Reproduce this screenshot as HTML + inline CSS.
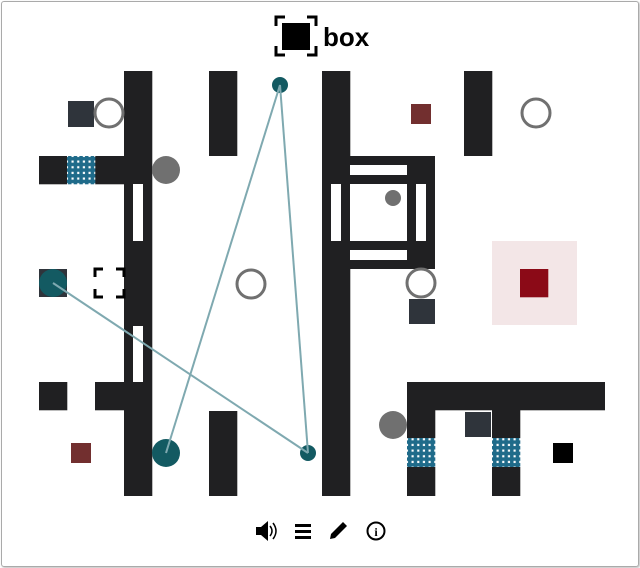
<!DOCTYPE html>
<html><head><meta charset="utf-8"><style>
html,body{margin:0;padding:0;background:#fff;}
body{width:640px;height:568px;overflow:hidden;position:relative;font-family:"Liberation Sans",sans-serif;}
.frame{position:absolute;left:1px;top:1px;width:636px;height:564px;border:1px solid #aaa;border-radius:3px;box-shadow:1px 1px 2px #bbb;}
</style></head><body>
<div class="frame"></div>
<svg width="640" height="568" style="position:absolute;left:0;top:0">
<defs>
<pattern id="gr" x="67" y="156" width="5.667" height="5.667" patternUnits="userSpaceOnUse">
<rect width="5.667" height="5.667" fill="#fff"/>
<rect x="1" y="0" width="3.5" height="5.667" fill="#1f6b8a"/>
<rect x="0" y="1" width="5.667" height="3.5" fill="#1f6b8a"/>
</pattern>
</defs>
<!-- title -->
<g fill="none" stroke="#000" stroke-width="3">
<path d="M276 26 V17 H285 M307 17 H316 V26 M316 46 V55 H307 M285 55 H276 V46"/>
</g>
<rect x="282" y="23" width="28" height="27" fill="#000"/>
<text x="323" y="46" font-size="26" font-weight="bold" font-family="Liberation Sans, sans-serif">box</text>
<!-- walls -->
<g fill="#202022">
<rect x="124" y="71" width="28.3" height="425"/>
<rect x="39" y="156" width="28.3" height="28.3"/>
<rect x="95" y="156" width="29" height="28.3"/>
<rect x="39" y="382" width="28.3" height="28.3"/>
<rect x="95" y="382" width="29" height="28.3"/>
<rect x="209" y="71" width="28.3" height="85"/>
<rect x="209" y="411" width="28.3" height="85"/>
<rect x="322" y="71" width="28.3" height="425"/>
<rect x="464" y="71" width="28.3" height="85"/>
<rect x="350" y="156" width="85" height="113"/>
<rect x="407" y="382" width="198" height="28.3"/>
<rect x="407" y="410" width="28.3" height="28"/>
<rect x="407" y="467" width="28.3" height="29"/>
<rect x="492" y="410" width="28.3" height="28"/>
<rect x="492" y="467" width="28.3" height="29"/>
</g>
<g fill="#fff">
<rect x="133" y="184" width="10" height="57"/>
<rect x="133" y="326" width="10" height="56"/>
<rect x="331" y="184" width="10" height="57"/>
<rect x="350" y="184" width="57" height="57"/>
<rect x="350" y="165" width="57" height="10"/>
<rect x="350" y="250" width="57" height="10"/>
<rect x="416" y="184" width="10" height="57"/>
</g>
<rect x="67" y="156" width="28.3" height="28.3" fill="url(#gr)"/>
<rect x="407" y="438" width="28.3" height="29" fill="url(#gr)"/>
<rect x="492" y="438" width="28.3" height="29" fill="url(#gr)"/>
<!-- pink goal -->
<rect x="492" y="241" width="85" height="84" fill="#f3e6e7"/>
<rect x="520" y="269" width="28.3" height="28.3" fill="#8b0a17"/>
<!-- small squares -->
<rect x="411" y="104" width="20" height="20" fill="#722f2f"/>
<rect x="71" y="443" width="20" height="20" fill="#722f2f"/>
<rect x="553" y="443" width="20" height="20" fill="#000"/>
<g fill="#2f343b">
<rect x="68" y="101" width="26" height="26"/>
<rect x="409" y="299" width="26" height="25"/>
<rect x="465" y="412" width="26" height="25"/>
<rect x="39" y="269" width="28" height="28"/>
</g>
<!-- circles -->
<g fill="none" stroke="#707070" stroke-width="3">
<circle cx="109" cy="113" r="14"/>
<circle cx="536" cy="113" r="14"/>
<circle cx="251" cy="284" r="14"/>
<circle cx="421" cy="283" r="14"/>
</g>
<g fill="#707070">
<circle cx="166" cy="170" r="14"/>
<circle cx="393" cy="425" r="14"/>
<circle cx="393" cy="198" r="8"/>
</g>
<!-- dashed bracket -->
<path d="M95 277 V269 H103 M116 269 H124 V277 M124 289 V297 H116 M103 297 H95 V289" fill="none" stroke="#000" stroke-width="3"/>
<!-- teal -->
<g fill="#135a62">
<circle cx="53" cy="283" r="14"/>
<circle cx="280" cy="85" r="8"/>
<circle cx="166" cy="453" r="14"/>
<circle cx="308" cy="453" r="8"/>
</g>
<g stroke="#7fa9b0" stroke-width="2">
<line x1="280" y1="85" x2="166" y2="453"/>
<line x1="280" y1="85" x2="308" y2="453"/>
<line x1="53" y1="283" x2="308" y2="453"/>
</g>
<!-- bottom icons -->
<path d="M256 527 H261 L268 521 V541 L261 535 H256 Z" fill="#000"/>
<path d="M270 526 Q274 531 270 536 M273 523 Q279 531 273 539" fill="none" stroke="#000" stroke-width="1.5"/>
<g fill="#000"><rect x="295" y="524" width="16" height="3"/><rect x="295" y="530" width="16" height="3"/><rect x="295" y="536" width="16" height="3"/></g>
<path d="M330 539 L331 534 L343 522 L347 526 L335 538 Z" fill="#000"/>
<circle cx="376" cy="531" r="8.5" fill="none" stroke="#000" stroke-width="2"/>
<text x="376" y="536" font-size="12" font-weight="bold" text-anchor="middle" font-family="Liberation Serif, serif">i</text>
</svg>
</body></html>
